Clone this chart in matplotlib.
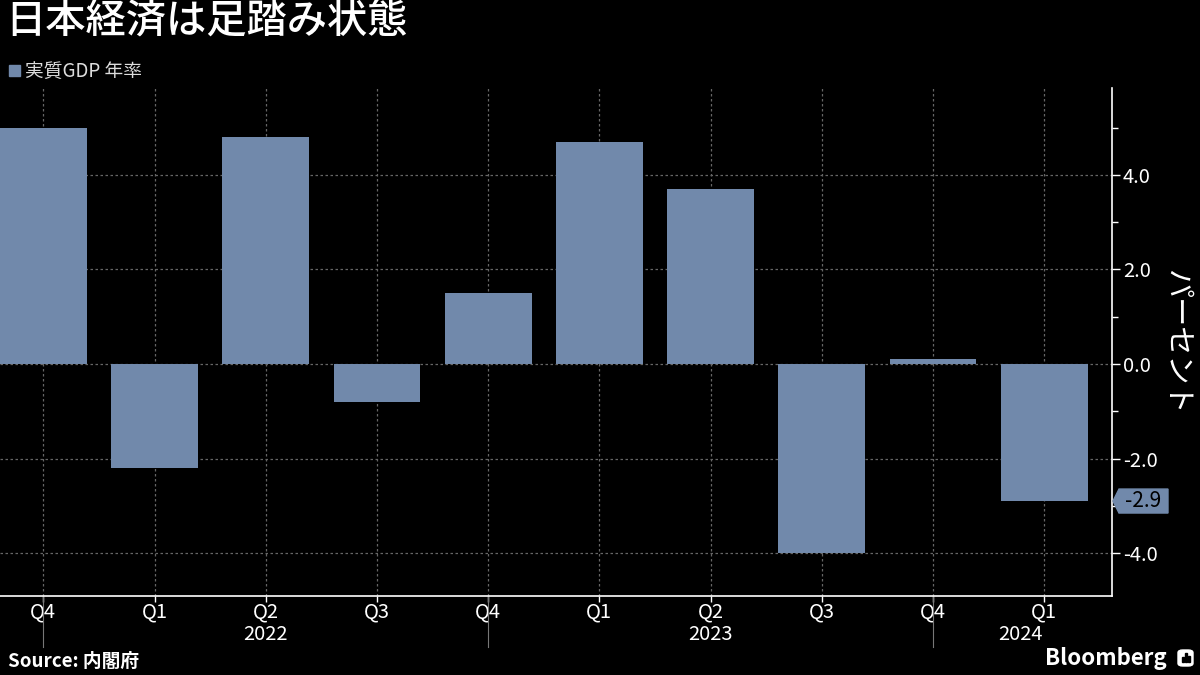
import matplotlib
matplotlib.use("Agg")
from matplotlib import pyplot as plt
from matplotlib import transforms
from matplotlib.patches import FancyBboxPatch
import numpy as np

plt.rcParams['font.family'] = ['Noto Sans CJK JP', 'DejaVu Sans']

# data
quarters = ["Q4", "Q1", "Q2", "Q3", "Q4", "Q1", "Q2", "Q3", "Q4", "Q1"]
years = ["2022", "2023", "2024"]
year_label_pos = [2, 6, 8.79]
year_break_pos = [0, 4, 8]
gdp = [5.0, -2.2, 4.8, -0.8, 1.5, 4.7, 3.7, -4.0, 0.1, -2.9]
y_ticks = [-4.0, -2.0, 0.0, 2.0, 4.0]

bar_color = "#7189ab"
grid_color = "#666666"

fig = plt.figure(figsize=(12, 6.75), dpi=100, facecolor="black")
ax = fig.add_axes([0, 0.117, 1112 / 1200, 0.7526])
ax.set_facecolor("black")

x = np.arange(len(gdp))
ax.bar(x, gdp, width=0.78, color=bar_color, zorder=3)

ax.set_xlim(-0.39, 9.61)
ax.set_ylim(-4.91, 5.84)

# grid
for yv in y_ticks:
    ax.axhline(yv, color=grid_color, lw=0.9, ls=(0, (2, 2)), zorder=1)
for xv in x:
    ax.axvline(xv, color=grid_color, lw=0.9, ls=(0, (2, 2)), zorder=1)

# spines
for s in ["top", "left"]:
    ax.spines[s].set_visible(False)
ax.spines["right"].set_color("white")
ax.spines["bottom"].set_color("white")
ax.spines["right"].set_linewidth(1.2)
ax.spines["bottom"].set_linewidth(1.2)

ax.yaxis.tick_right()
ax.set_yticks(y_ticks)
ax.set_yticks([-3.0, -1.0, 1.0, 3.0, 5.0], minor=True)
ax.set_yticklabels(["%.1f" % v for v in y_ticks])
ax.tick_params(axis="y", which="both", colors="white", labelsize=14.5, length=6, width=1, direction="out", pad=2)
ax.tick_params(axis="y", which="minor", length=4)

ax.set_xticks(x)
ax.set_xticklabels(quarters)
ax.tick_params(axis="x", colors="white", labelsize=14.5, length=4, width=1, pad=0)

ax.yaxis.set_label_position("right")
ax.set_ylabel("パーセント", color="white", fontsize=21, rotation=-90, labelpad=24)

# year labels and separators
tr = transforms.blended_transform_factory(ax.transData, ax.transAxes)
for pos, yr in zip(year_label_pos, years):
    ax.text(pos, -0.076, yr, transform=tr, color="white", fontsize=14.5, ha="center", va="center")
for pos in year_break_pos:
    ax.plot([pos, pos], [0, -0.1], transform=tr, color="#777777", lw=0.8, clip_on=False)

# last value tag
last = gdp[-1]
ytag = ax.transData.transform((0, last))[1]
fig_y = ytag / fig.dpi / fig.get_figheight()
ax_r = 1112 / 1200
tag_h = 24 / 675
tag_x0 = ax_r + 7 / 1200
tag_w = 49 / 1200
fig.patches.append(plt.Polygon(
    [[ax_r + 1 / 1200, fig_y], [tag_x0, fig_y + tag_h / 2], [tag_x0 + tag_w, fig_y + tag_h / 2],
     [tag_x0 + tag_w, fig_y - tag_h / 2], [tag_x0, fig_y - tag_h / 2]],
    closed=True, color=bar_color, transform=fig.transFigure, zorder=5))
fig.text(tag_x0 + tag_w / 2, fig_y, "%.1f" % last, color="black", fontsize=15,
         ha="center", va="center", zorder=6)

# title, legend, footer
fig.text(5 / 1200, 1 - 22 / 675, "日本経済は足踏み状態", color="white", fontsize=29,
         fontweight="medium", ha="left", va="center")
fig.patches.append(plt.Rectangle((9 / 1200, 1 - 76 / 675), 11 / 1200, 11 / 675,
                                 color=bar_color, transform=fig.transFigure))
fig.text(25 / 1200, 1 - 71 / 675, "実質GDP 年率", color="#dddddd", fontsize=13.5,
         ha="left", va="center")
fig.text(8 / 1200, 1 - 661 / 675, "Source: 内閣府", color="white", fontsize=13.5,
         fontweight="bold", ha="left", va="center")
fig.text(1167 / 1200, 1 - 659 / 675, "Bloomberg", color="white", fontsize=16,
         fontweight="bold", ha="right", va="center")
fig.patches.append(FancyBboxPatch((1178 / 1200, 1 - 666 / 675), 15 / 1200, 16 / 675,
                                  boxstyle="round,pad=0,rounding_size=0.004",
                                  color="white", transform=fig.transFigure))
for bx, bh in [(1182, 5), (1185, 9), (1188, 6)]:
    fig.patches.append(plt.Rectangle((bx / 1200, 1 - 662 / 675), 1.6 / 1200, bh / 675,
                                     color="black", transform=fig.transFigure, zorder=6))

fig.savefig("out.png", dpi=100, facecolor="black")
